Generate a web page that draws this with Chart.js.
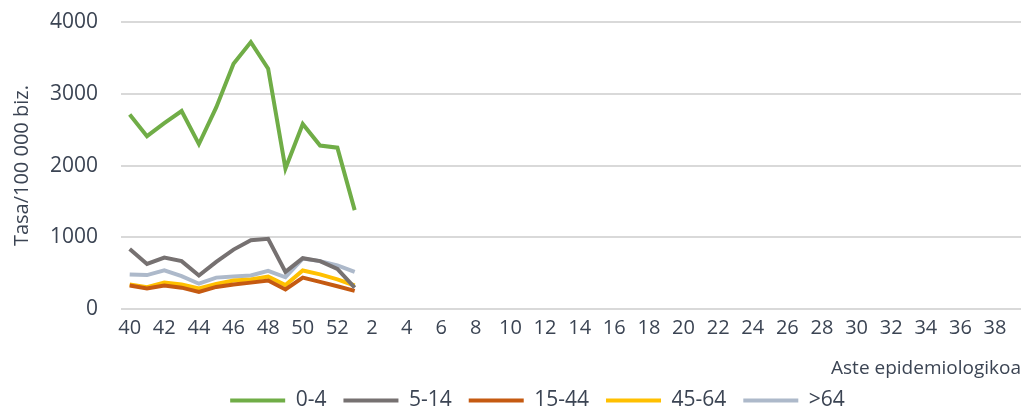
<!DOCTYPE html>
<html>
<head>
<meta charset="utf-8">
<script src="https://cdn.jsdelivr.net/npm/chart.js@4"></script>
<style>
  html, body { margin: 0; padding: 0; background: #fff; }
  #wrap { width: 1022px; height: 409px; }
</style>
</head>
<body>
<div id="wrap"><canvas id="chart" width="1022" height="409"></canvas></div>
<script>
// weeks: 40..53 then 2..39
const weeks = [];
for (let w = 40; w <= 53; w++) weeks.push(String(w));
for (let w = 2; w <= 39; w++) weeks.push(String(w));

const yTicks = [0, 1000, 2000, 3000, 4000];

const age0_4   = [2710, 2410, 2590, 2760, 2300, 2810, 3420, 3720, 3350, 1960, 2580, 2280, 2250, 1380];
const age5_14  = [840, 630, 720, 670, 470, 660, 830, 960, 980, 520, 710, 670, 560, 300];
const age15_44 = [330, 290, 330, 300, 240, 310, 345, 370, 400, 275, 440, 380, 320, 255];
const age45_64 = [345, 305, 370, 345, 290, 350, 400, 415, 455, 335, 540, 485, 415, 330];
const age64    = [485, 475, 540, 460, 355, 440, 455, 470, 535, 445, 705, 670, 610, 520];

const textColor = "#3b4453";
const fontFamily = "'Open Sans', 'Liberation Sans', sans-serif";

function series(label, data, color) {
    return {
        label: label,
        data: data,
        borderColor: color,
        backgroundColor: color,
        borderWidth: 4,
        pointRadius: 0,
        tension: 0,
        fill: false
    };
}

// legend in the original sits a bit right of centre
const legendShift = {
    id: "legendShift",
    afterLayout(chart) {
        chart.legend.left += 22;
        chart.legend.right += 22;
    }
};

const ctx = document.getElementById('chart').getContext('2d');
new Chart(ctx, {
    type: "line",
    data: {
        labels: weeks,
        datasets: [
            series("0-4", age0_4, "#70ad47"),
            series("5-14", age5_14, "#767171"),
            series("15-44", age15_44, "#c55a11"),
            series("45-64", age45_64, "#ffc000"),
            series(">64", age64, "#adb9ca")
        ]
    },
    plugins: [legendShift],
    options: {
        responsive: false,
        animation: false,
        layout: { padding: { left: 10, right: 1, top: 22, bottom: -12 } },
        plugins: {
            legend: {
                position: "bottom",
                labels: {
                    color: textColor,
                    font: { family: fontFamily, size: 21 },
                    boxWidth: 55,
                    boxHeight: 4,
                    padding: 17,
                    generateLabels: chart => chart.data.datasets.map((d, i) => ({
                        text: d.label,
                        fillStyle: d.borderColor,
                        strokeStyle: d.borderColor,
                        lineWidth: 0,
                        datasetIndex: i,
                        fontColor: textColor
                    }))
                }
            },
            tooltip: { enabled: false }
        },
        scales: {
            x: {
                offset: true,
                grid: { display: false },
                border: { display: false },
                ticks: {
                    color: textColor,
                    font: { family: fontFamily, size: 20 },
                    autoSkip: false,
                    maxRotation: 0,
                    padding: -1,
                    callback: function (v, i) { return i % 2 === 0 ? this.getLabelForValue(v) : ""; }
                },
                title: {
                    display: true,
                    text: "Aste epidemiologikoa",
                    align: "end",
                    color: textColor,
                    font: { family: fontFamily, size: 19 },
                    padding: { top: 18, bottom: -7 }
                }
            },
            y: {
                min: 0,
                max: 4000,
                afterBuildTicks: axis => { axis.ticks = yTicks.map(v => ({ value: v })); },
                grid: { color: "#d9d9d9", lineWidth: 2, drawTicks: true, tickLength: 23, tickColor: "rgba(0,0,0,0)" },
                border: { display: false },
                ticks: {
                    color: textColor,
                    font: { family: fontFamily, size: 21 },
                    padding: 0,
                    callback: v => String(v)
                },
                title: {
                    display: true,
                    text: "Tasa/100 000 biz.",
                    color: textColor,
                    font: { family: fontFamily, size: 20 },
                    padding: { top: 0, bottom: 16 }
                }
            }
        }
    }
});
</script>
</body>
</html>
